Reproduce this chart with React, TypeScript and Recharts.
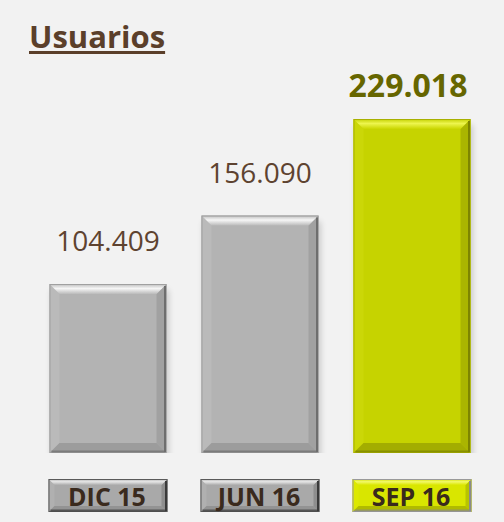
import { BarChart, Bar, XAxis, YAxis, LabelList } from 'recharts'

const meses = ['DIC 15', 'JUN 16', 'SEP 16']
const usuarios = [104409, 156090, 229018]
const etiquetas = ['104.409', '156.090', '229.018']

// the value axis does not start at zero in the original
const BASE = -23200

const data = meses.map((mes, i) => ({
  mes,
  usuarios: usuarios[i],
  etiqueta: etiquetas[i]
}))

const grey = {
  face: '#b3b3b3',
  top: ['#bdbdbd', '#f6f6f6', '#bababa'],
  left: '#bababa',
  right: '#a1a1a1',
  bottom: '#9c9c9c',
  edge: '#6e6e6e',
  line: '#a0a0a0'
}
const lime = {
  face: '#c6d300',
  top: ['#c4d000', '#edf54e', '#cad600'],
  left: '#cbd708',
  right: '#aab500',
  bottom: '#a3ad00',
  edge: '#7d8400',
  line: '#a8b000'
}

function Bevel({ x, y, width, height, c, b, uid }: any) {
  const x2 = x + width
  const y2 = y + height
  const gid = `${uid}-top`
  return (
    <g>
      <defs>
        <linearGradient id={gid} x1="0" y1="0" x2="0" y2="1">
          <stop offset="0" stopColor={c.top[0]} />
          <stop offset="0.45" stopColor={c.top[1]} />
          <stop offset="1" stopColor={c.top[2]} />
        </linearGradient>
      </defs>
      <rect x={x} y={y} width={width} height={height} fill={c.face} />
      <polygon points={`${x},${y} ${x + b},${y + b} ${x + b},${y2 - b} ${x},${y2}`} fill={c.left} />
      <polygon points={`${x2},${y} ${x2},${y2} ${x2 - b},${y2 - b} ${x2 - b},${y + b}`} fill={c.right} />
      <polygon points={`${x},${y2} ${x2},${y2} ${x2 - b},${y2 - b} ${x + b},${y2 - b}`} fill={c.bottom} />
      <polygon points={`${x},${y} ${x2},${y} ${x2 - b},${y + b} ${x + b},${y + b}`} fill={`url(#${gid})`} />
      <rect x={x + 0.5} y={y + 0.5} width={width - 1} height={height - 1} fill="none" stroke={c.line} strokeWidth={1} />
      <line x1={x2 - 1.5} y1={y + 2} x2={x2 - 1.5} y2={y2 - 1} stroke={c.edge} strokeWidth={2} />
      <line x1={x + 2} y1={y2 - 1.5} x2={x2 - 1} y2={y2 - 1.5} stroke={c.edge} strokeWidth={2} opacity={0.7} />
    </g>
  )
}

function BarShape(props: any) {
  const { x, y, width, height, index } = props
  const c = index === 2 ? lime : grey
  return (
    <g>
      <rect x={x + 2} y={y + 6} width={width} height={height} fill="#000" opacity={0.18} filter="url(#blurShadow)" />
      <Bevel x={x} y={y} width={width} height={height} c={c} b={10} uid={`bar${index}`} />
    </g>
  )
}

function ValueLabel(props: any) {
  const { x, y, width, index, value } = props
  const last = index === 2
  return (
    <text
      x={x + width / 2 - (last ? 4 : 0)}
      y={y - (last ? 22 : 33)}
      textAnchor="middle"
      fontFamily="'Open Sans', sans-serif"
      fontSize={last ? 32 : 28}
      fontWeight={last ? 700 : 400}
      fill={last ? '#666600' : '#5e4330'}
    >
      {value}
    </text>
  )
}

function MesTick(props: any) {
  const { x, y, payload, index } = props
  const c = index === 2 ? { ...lime, face: '#d9e600', left: '#dde900', right: '#b8c400', bottom: '#b0bb00', top: ['#d2de00', '#f2f96a', '#dbe700'] } : { ...grey, face: '#a9a9a9', top: ['#b5b5b5', '#e6e6e6', '#acacac'], left: '#b0b0b0', right: '#8e8e8e', bottom: '#939393' }
  const w = 119
  const h = 33
  const bx = x - w / 2
  const by = y + 26
  return (
    <g>
      <Bevel
        x={bx}
        y={by}
        width={w}
        height={h}
        c={{ ...c, line: index === 2 ? '#9a9a9a' : '#5a5a5a', edge: index === 2 ? '#8a8a8a' : '#3a3a3a' }}
        b={6}
        uid={`tick${index}`}
      />
      <text
        x={x - 1}
        y={by + 27}
        textAnchor="middle"
        fontFamily="'Open Sans', sans-serif"
        fontSize={25}
        fontWeight={700}
        fill="#3a2a1d"
      >
        {payload.value}
      </text>
    </g>
  )
}

export default function App() {
  return (
    <div style={{ position: 'absolute', left: 0, top: 0, width: 504, height: 522, background: '#f2f2f2' }}>
      <svg width={0} height={0} style={{ position: 'absolute' }}>
        <defs>
          <filter id="blurShadow" x="-20%" y="-20%" width="140%" height="140%">
            <feGaussianBlur stdDeviation="3" />
          </filter>
        </defs>
      </svg>
      <div
        style={{
          position: 'absolute',
          left: 29,
          top: 21,
          fontFamily: "'Open Sans', sans-serif",
          fontWeight: 700,
          fontSize: 31,
          lineHeight: '31px',
          color: '#5b3f2a',
          textDecoration: 'underline',
          textDecorationThickness: 3,
          textUnderlineOffset: 3
        }}
      >
        Usuarios
      </div>
      <BarChart
        width={504}
        height={522}
        data={data}
        margin={{ top: 119, right: 16, bottom: 0, left: 32 }}
        barCategoryGap={17.5}
      >
        <XAxis
          dataKey="mes"
          height={69}
          axisLine={false}
          tickLine={false}
          tickSize={0}
          tickMargin={0}
          interval={0}
          tick={<MesTick />}
        />
        <YAxis hide type="number" domain={[BASE, 229018]} allowDataOverflow />
        <Bar
          dataKey={(d: any) => [BASE, d.usuarios]}
          shape={<BarShape />}
          isAnimationActive={false}
        >
          <LabelList dataKey="etiqueta" content={<ValueLabel />} />
        </Bar>
      </BarChart>
    </div>
  )
}
